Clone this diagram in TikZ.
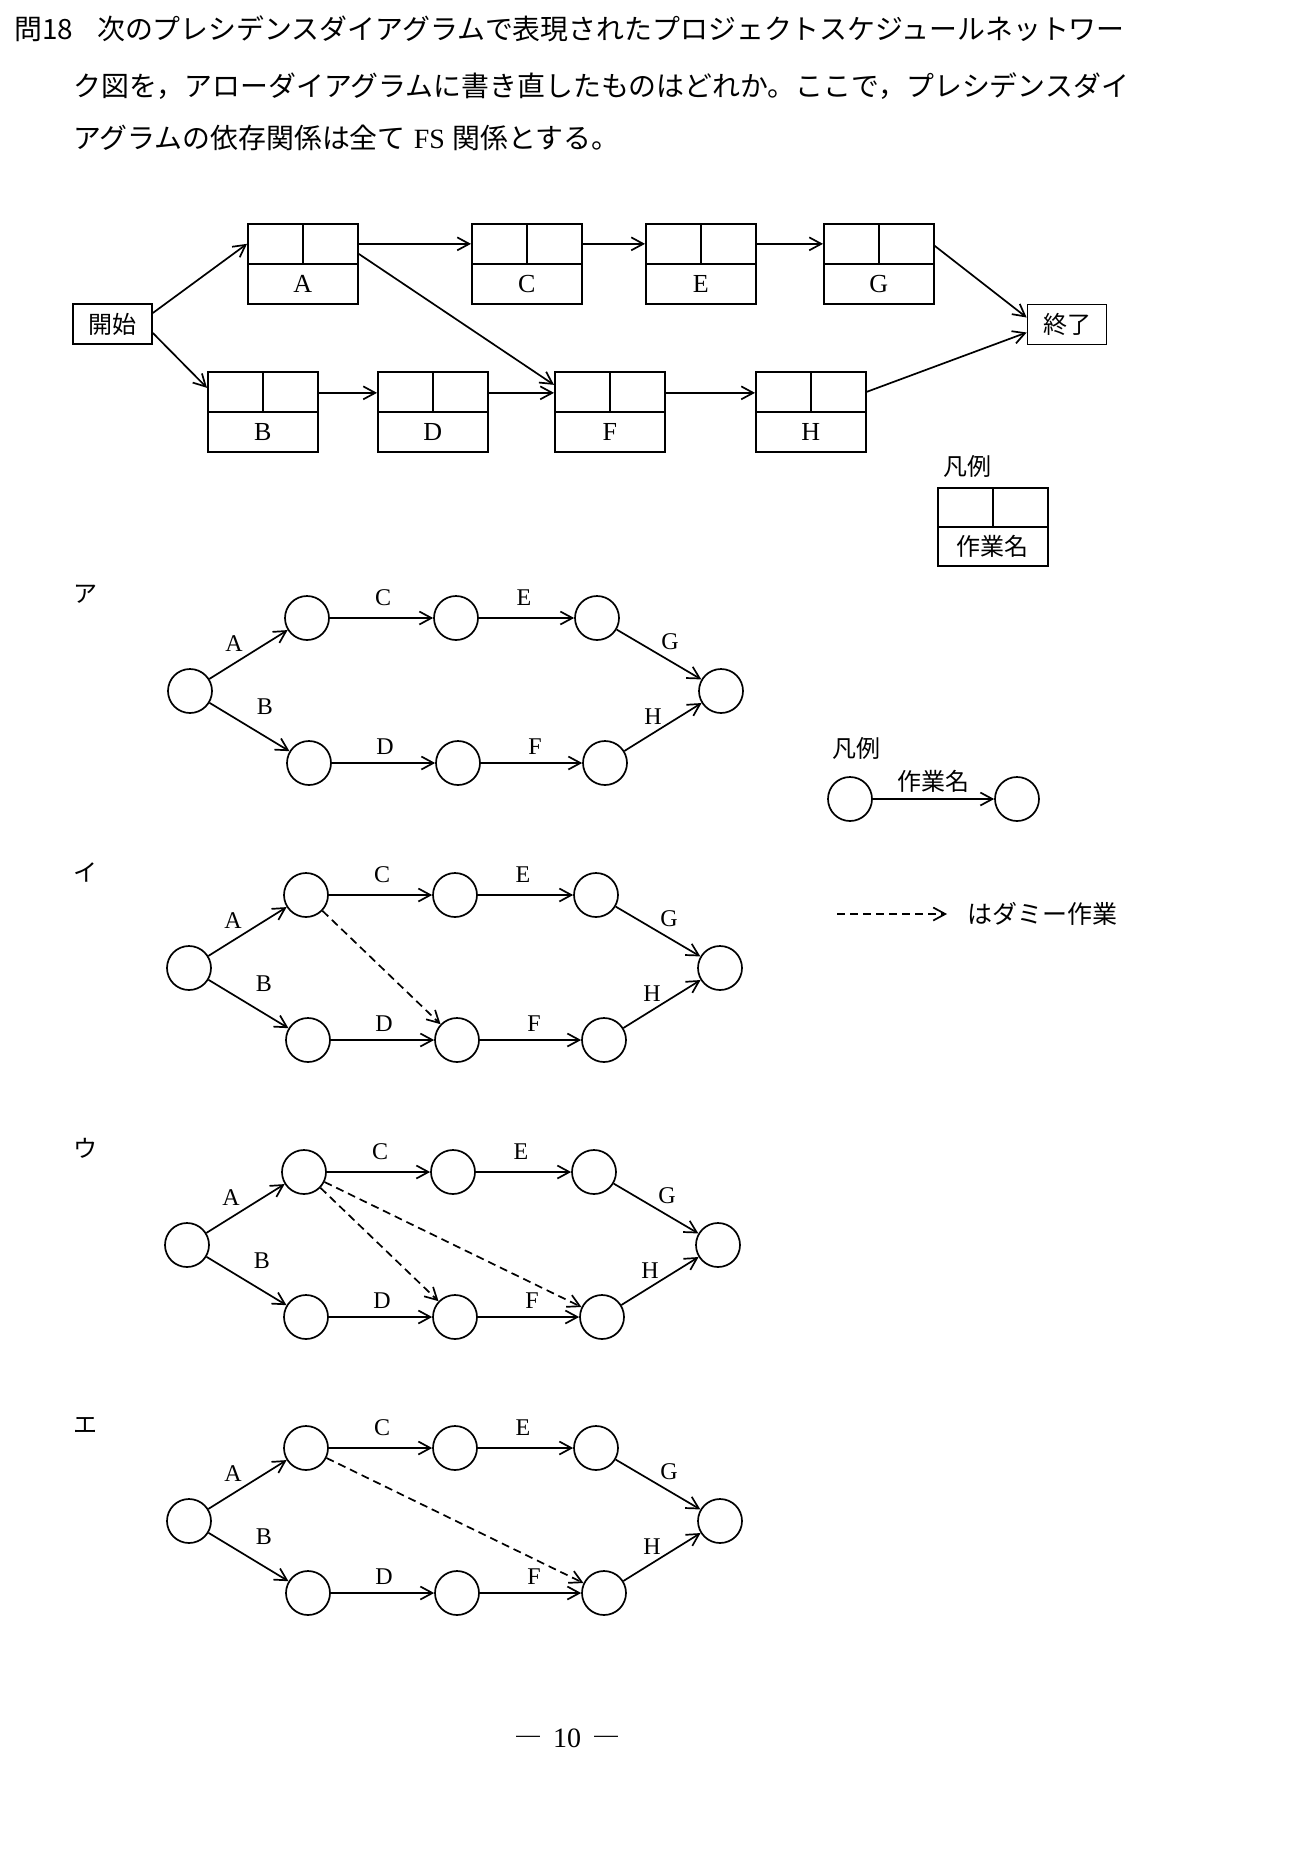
\documentclass[tikz,border=0pt]{standalone}
\usepackage{fontspec}
\setmainfont{Liberation Serif}
\newfontfamily\jp{Noto Sans CJK JP}
\usetikzlibrary{arrows.meta,calc}

\tikzset{
  ln/.style={line width=1.7pt},
  arr/.style={ln, -{Straight Barb[length=12pt,width=13pt,line width=1.7pt]}},
  dum/.style={arr, dash pattern=on 8pt off 5pt},
  ev/.style={circle, draw, ln, minimum size=44pt, inner sep=0pt},
  pbox/.style={draw, ln, minimum width=110pt, minimum height=80pt, inner sep=0pt},
  tbox/.style={draw, ln, minimum width=79pt, minimum height=40pt, inner sep=0pt, font=\jp\fontsize{24}{24}\selectfont},
  lat/.style={font=\fontsize{26}{26}\selectfont, inner sep=0pt},
  olab/.style={font=\fontsize{24}{24}\selectfont, inner sep=0pt},
  jtitle/.style={font=\jp\fontsize{27.9}{27.9}\selectfont, inner sep=0pt, anchor=west},
  jlab/.style={font=\jp\fontsize{24}{24}\selectfont, inner sep=0pt},
}

\newcommand\precbox[4]{%
  \node[pbox, anchor=north west] (#1) at (#2,#3) {};
  \draw[ln] (#1.west) -- (#1.east);
  \draw[ln] (#1.north) -- (#1.center);
  \node[lat] (#1l) at ($(#1.center)!0.5!(#1.south)$) {#4};
}

\newcommand\arrowdiag[3]{%
  \begin{scope}[shift={(#2,#3)}]
    \node[ev] (#1s) at (190,691) {};
    \node[ev] (#1a) at (307,618) {};
    \node[ev] (#1c) at (456,618) {};
    \node[ev] (#1e) at (597,618) {};
    \node[ev] (#1t) at (721,691) {};
    \node[ev] (#1b) at (309,763) {};
    \node[ev] (#1d) at (458,763) {};
    \node[ev] (#1f) at (605,763) {};
    \draw[arr] (#1s) -- (#1a);
    \draw[arr] (#1s) -- (#1b);
    \draw[arr] (#1a) -- (#1c);
    \draw[arr] (#1c) -- (#1e);
    \draw[arr] (#1e) -- (#1t);
    \draw[arr] (#1b) -- (#1d);
    \draw[arr] (#1d) -- (#1f);
    \draw[arr] (#1f) -- (#1t);
    \node[olab] (#1lA) at (234,644) {A};
    \node[olab] (#1lB) at (265,707) {B};
    \node[olab] (#1lC) at (383,598) {C};
    \node[olab] (#1lD) at (385,747) {D};
    \node[olab] (#1lE) at (524,598) {E};
    \node[olab] (#1lF) at (535,747) {F};
    \node[olab] (#1lG) at (670,642) {G};
    \node[olab] (#1lH) at (653,717) {H};
  \end{scope}}

\begin{document}
\begin{tikzpicture}[x=1pt,y=-1pt]
\useasboundingbox (0,0) rectangle (1291,1852);
\fill[white] (0,0) rectangle (1291,1852);

% question text
\node[jtitle] (t1) at (14,29) {\makebox[83pt][l]{問18}次のプレシデンスダイアグラムで表現されたプロジェクトスケジュールネットワー};
\node[jtitle] (t2) at (73,86) {ク図を，アローダイアグラムに書き直したものはどれか。ここで，プレシデンスダイ};
\node[jtitle] (t3) at (73,138) {アグラムの依存関係は全て\hspace{8pt}{\rmfamily FS}\hspace{8pt}関係とする。};

% precedence diagram
\node[tbox] (start) at (112.5,324) {開始};
\node[tbox] (finish) at (1067,324.5) {終了};
\precbox{A}{247}{223}{A}
\precbox{C}{471}{223}{C}
\precbox{E}{645}{223}{E}
\precbox{G}{823}{223}{G}
\precbox{B}{207}{371}{B}
\precbox{D}{377}{371}{D}
\precbox{F}{554}{371}{F}
\precbox{H}{755}{371}{H}

\draw[arr] ([yshift=11pt]start.east) -- ([yshift=20pt]A.west);
\draw[arr] ([yshift=-9pt]start.east) -- ([yshift=24pt]B.west);
\draw[arr] ([yshift=20pt]A.east) -- ([yshift=20pt]C.west);
\draw[arr] ([yshift=10pt]A.east) -- ([yshift=27pt]F.west);
\draw[arr] ([yshift=20pt]C.east) -- ([yshift=20pt]E.west);
\draw[arr] ([yshift=20pt]E.east) -- ([yshift=20pt]G.west);
\draw[arr] ([yshift=18pt]G.east) -- ([yshift=7pt]finish.west);
\draw[arr] ([yshift=19pt]B.east) -- ([yshift=19pt]D.west);
\draw[arr] ([yshift=19pt]D.east) -- ([yshift=19pt]F.west);
\draw[arr] ([yshift=19pt]F.east) -- ([yshift=19pt]H.west);
\draw[arr] ([yshift=20pt]H.east) -- ([yshift=-8pt]finish.west);

% legend 1
\node[jlab] (leg1) at (967,466) {凡例};
\node[pbox, minimum height=78pt, anchor=north west] (L) at (937,487) {};
\draw[ln] (L.west) -- (L.east);
\draw[ln] (L.north) -- (L.center);
\node[jlab] (Ll) at ($(L.center)!0.5!(L.south)$) {作業名};

% option labels
\node[jlab] (optA) at (85,594) {ア};
\node[jlab] (optB) at (85,872) {イ};
\node[jlab] (optC) at (85,1148) {ウ};
\node[jlab] (optD) at (85,1425) {エ};

% arrow diagrams
\arrowdiag{p}{0}{0}
\arrowdiag{q}{-1}{277}
\draw[dum] (qa) -- (qd);
\arrowdiag{r}{-3}{554}
\draw[dum] (ra) -- (rd);
\draw[dum] (ra) -- (rf);
\arrowdiag{u}{-1}{830}
\draw[dum] (ua) -- (uf);

% legend 2
\node[jlab] (leg2) at (856,748) {凡例};
\node[ev] (lc1) at (850,799) {};
\node[ev] (lc2) at (1017,799) {};
\draw[arr] (lc1) -- (lc2);
\node[jlab] (lcl) at (933,781) {作業名};
\coordinate (dA) at (837,914);
\coordinate (dB) at (947,914);
\draw[dum] (dA) -- (dB);
\node[jlab, anchor=west, font=\jp\fontsize{25}{25}\selectfont] (dtxt) at (967,914) {はダミー作業};

% page number
\node[inner sep=0pt, font=\fontsize{28}{28}\selectfont] (pg) at (567,1738) {{\jp ―}\hspace{11pt}10\hspace{11pt}{\jp ―}};
\end{tikzpicture}
\end{document}
